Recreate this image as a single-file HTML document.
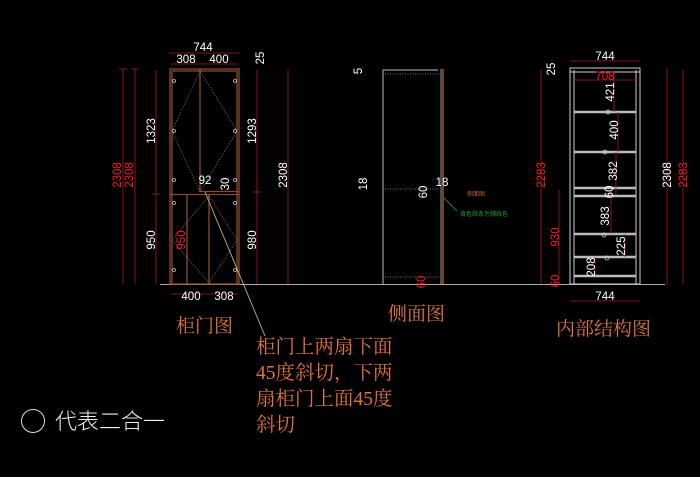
<!DOCTYPE html>
<html><head><meta charset="utf-8"><style>
html,body{margin:0;padding:0;background:#000;width:700px;height:477px;overflow:hidden}
svg{display:block}
.w{fill:#fff;font-family:"Liberation Sans",sans-serif;font-size:11.5px}
.r{fill:#ff1a1a;font-family:"Liberation Sans",sans-serif;font-size:11.5px}
.o{fill:#e0743a;font-family:"Liberation Serif","Noto Serif CJK SC",serif}
</style></head><body>
<svg width="700" height="477" viewBox="0 0 700 477" xmlns="http://www.w3.org/2000/svg">
<line x1="160" y1="284.5" x2="665" y2="284.5" stroke="#aaa" stroke-width="1"/>

<g stroke="#8a4a30" fill="none" stroke-width="1.3">
<rect x="170" y="69" width="69" height="215"/>
<line x1="172" y1="71" x2="237" y2="71"/>
<line x1="172" y1="71" x2="172" y2="284"/>
<line x1="237" y1="71" x2="237" y2="284"/>
<line x1="170" y1="194.5" x2="239" y2="194.5"/>
<line x1="200" y1="69" x2="200" y2="192"/>
<line x1="200" y1="191.5" x2="239" y2="191.5"/>
<line x1="187" y1="194" x2="187" y2="284"/>
<line x1="209" y1="194" x2="209" y2="284"/>
</g>
<g stroke="#777" fill="none" stroke-width="0.7" stroke-dasharray="1.5,1.5">
<polyline points="200,71 172,131 200,192 237,131 200,71"/>
<polyline points="209,196 172,240 209,283 237,240 209,196"/>
</g>
<g fill="none" stroke="#ccc" stroke-width="0.8">
<circle cx="174" cy="81" r="1.5"/><circle cx="235" cy="81" r="1.5"/>
<circle cx="174" cy="131" r="1.5"/><circle cx="235" cy="131" r="1.5"/>
<circle cx="174" cy="180" r="1.5"/><circle cx="235" cy="180" r="1.5"/>
<circle cx="174" cy="203" r="1.5"/><circle cx="235" cy="203" r="1.5"/>
<circle cx="174" cy="270" r="1.5"/><circle cx="235" cy="270" r="1.5"/>
</g>
<g stroke="#a02020" stroke-width="0.8" fill="none">
<line x1="169" y1="53" x2="240" y2="53"/>
<line x1="171" y1="64" x2="238" y2="64"/>
<line x1="123" y1="69" x2="123" y2="284"/>
<line x1="135" y1="69" x2="135" y2="284"/>
<line x1="156" y1="70" x2="156" y2="284"/>
<line x1="257" y1="70" x2="257" y2="284"/>
<line x1="288" y1="69" x2="288" y2="284"/>
<line x1="171" y1="294" x2="238" y2="294"/>
<line x1="119" y1="69" x2="127" y2="69"/><line x1="131" y1="69" x2="139" y2="69"/>
<line x1="152" y1="194" x2="160" y2="194"/><line x1="253" y1="192" x2="261" y2="192"/>
</g>
<text class="w" x="203" y="51" text-anchor="middle" font-size="12">744</text>
<text class="w" x="186" y="63" text-anchor="middle">308</text>
<text class="w" x="219" y="63" text-anchor="middle">400</text>
<text class="w" transform="translate(264,58) rotate(-90)" text-anchor="middle">25</text>
<text class="r" transform="translate(121,175) rotate(-90)" text-anchor="middle">2308</text>
<text class="r" transform="translate(133,175) rotate(-90)" text-anchor="middle">2308</text>
<text class="w" transform="translate(155,131) rotate(-90)" text-anchor="middle">1323</text>
<text class="w" transform="translate(155,240) rotate(-90)" text-anchor="middle">950</text>
<text class="w" transform="translate(256,131) rotate(-90)" text-anchor="middle">1293</text>
<text class="w" transform="translate(256,240) rotate(-90)" text-anchor="middle">980</text>
<text class="w" transform="translate(287,175) rotate(-90)" text-anchor="middle">2308</text>
<text class="r" transform="translate(185,240) rotate(-90)" text-anchor="middle">950</text>
<text class="w" x="205" y="184" text-anchor="middle">92</text>
<text class="w" transform="translate(229,184) rotate(-90)" text-anchor="middle">30</text>
<text class="w" x="191" y="300" text-anchor="middle">400</text>
<text class="w" x="224" y="300" text-anchor="middle">308</text>
<line x1="205" y1="192" x2="265" y2="336" stroke="#c8b070" stroke-width="0.9"/>

<g fill="none" stroke-width="1">
<path d="M383,284 L383,70 L438,70" stroke="#bbb"/>
<line x1="443" y1="69" x2="443" y2="284" stroke="#c07040" stroke-width="1.2"/>
<line x1="441" y1="69" x2="441" y2="284" stroke="#999"/>
<line x1="385" y1="74" x2="440" y2="74" stroke="#777" stroke-dasharray="1,1.5"/>
<line x1="385" y1="189" x2="440" y2="189" stroke="#777" stroke-dasharray="1,1.5"/>
<line x1="385" y1="277" x2="440" y2="277" stroke="#777" stroke-dasharray="1,1.5"/>
<line x1="443" y1="197" x2="457" y2="211" stroke="#2a7a3a"/>
</g>
<text class="w" transform="translate(362,71) rotate(-90)" text-anchor="middle">5</text>
<text class="w" transform="translate(367,184) rotate(-90)" text-anchor="middle">18</text>
<text class="w" x="442" y="186" text-anchor="middle">18</text>
<text class="w" transform="translate(427,192) rotate(-90)" text-anchor="middle">60</text>
<text class="r" transform="translate(425,282) rotate(-90)" text-anchor="middle">60</text>
<text x="476" y="196" text-anchor="middle" fill="#c06030" font-size="6" font-family="'Noto Sans CJK SC',sans-serif">侧面图</text>
<text x="484" y="216" text-anchor="middle" fill="#2a9a4a" font-size="6" font-family="'Noto Sans CJK SC',sans-serif">背色线条为辅线色</text>

<g fill="none" stroke="#ccc" stroke-width="1">
<rect x="570" y="68" width="70" height="216"/>
<line x1="574" y1="70" x2="574" y2="284"/>
<line x1="636" y1="70" x2="636" y2="284"/>
<line x1="570" y1="72" x2="640" y2="72"/>
</g>
<g stroke="#bbb" stroke-width="2.5">
<line x1="574" y1="112" x2="636" y2="112"/>
<line x1="574" y1="152" x2="636" y2="152"/>
<line x1="574" y1="188" x2="636" y2="188"/>
<line x1="574" y1="196" x2="636" y2="196"/>
<line x1="574" y1="234" x2="636" y2="234"/>
<line x1="574" y1="257" x2="636" y2="257"/>
<line x1="574" y1="276" x2="636" y2="276"/>
</g>
<g fill="none" stroke="#ccc" stroke-width="0.8">
<circle cx="608" cy="112" r="2"/><circle cx="605" cy="152" r="2"/><circle cx="604" cy="235" r="2"/><circle cx="607" cy="258" r="2"/>
</g>
<g stroke="#a02020" stroke-width="0.8" fill="none">
<line x1="570" y1="61" x2="640" y2="61"/>
<line x1="572" y1="80" x2="638" y2="80"/>
<line x1="570" y1="301" x2="640" y2="301"/>
<line x1="541" y1="70" x2="541" y2="284"/>
<line x1="559" y1="190" x2="559" y2="284"/>
<line x1="667" y1="68" x2="667" y2="284"/>
<line x1="683" y1="70" x2="683" y2="284"/>
<line x1="614" y1="72" x2="614" y2="112"/>
<line x1="618" y1="112" x2="618" y2="152"/>
<line x1="616" y1="152" x2="616" y2="194"/>
<line x1="611" y1="196" x2="611" y2="234"/>
<line x1="625" y1="234" x2="625" y2="257"/>
<line x1="595" y1="257" x2="595" y2="276"/>
</g>
<text class="w" x="605" y="60" text-anchor="middle">744</text>
<text class="w" transform="translate(555,69) rotate(-90)" text-anchor="middle">25</text>
<text class="r" x="605" y="80" text-anchor="middle" font-size="12">708</text>
<text class="w" transform="translate(614,92) rotate(-90)" text-anchor="middle">421</text>
<text class="w" transform="translate(618,130) rotate(-90)" text-anchor="middle">400</text>
<text class="w" transform="translate(617,171) rotate(-90)" text-anchor="middle">382</text>
<text class="w" transform="translate(613,192) rotate(-90)" text-anchor="middle">60</text>
<text class="w" transform="translate(609,216) rotate(-90)" text-anchor="middle">383</text>
<text class="w" transform="translate(625,246) rotate(-90)" text-anchor="middle">225</text>
<text class="w" transform="translate(595,267) rotate(-90)" text-anchor="middle">208</text>
<text class="r" transform="translate(545,175) rotate(-90)" text-anchor="middle">2283</text>
<text class="r" transform="translate(559,237) rotate(-90)" text-anchor="middle">930</text>
<text class="r" transform="translate(559,281) rotate(-90)" text-anchor="middle">60</text>
<text class="w" transform="translate(671,175) rotate(-90)" text-anchor="middle">2308</text>
<text class="r" transform="translate(687,175) rotate(-90)" text-anchor="middle">2283</text>
<text class="w" x="605" y="300" text-anchor="middle">744</text>

<text class="o" x="176" y="332" font-size="19">柜门图</text>
<text class="o" x="388" y="320" font-size="19">侧面图</text>
<text class="o" x="556" y="335" font-size="19">内部结构图</text>
<g class="o" font-size="19.5">
<text x="256" y="353">柜门上两扇下面</text>
<text x="256" y="379">45度斜切，下两</text>
<text x="256" y="405">扇柜门上面45度</text>
<text x="256" y="431">斜切</text>
</g>
<circle cx="33" cy="421" r="11.5" fill="none" stroke="#ddd" stroke-width="1"/>
<text x="55" y="429" fill="#eee" font-size="22" font-weight="300" font-family="'Noto Sans CJK SC',sans-serif">代表二合一</text>
</svg>
</body></html>
